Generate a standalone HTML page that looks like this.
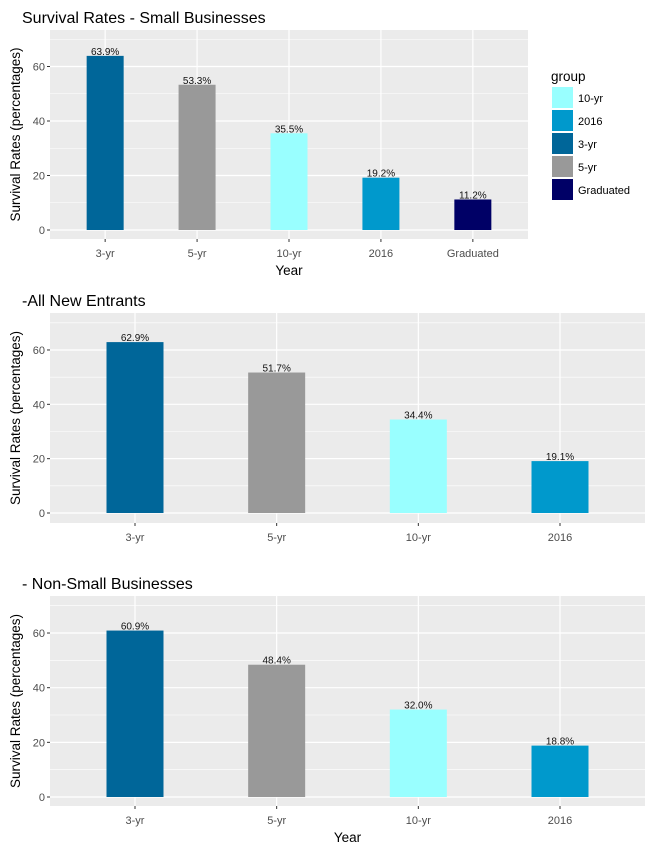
<!DOCTYPE html>
<html><head><meta charset="utf-8"><style>
body{margin:0;background:#fff;}
svg{display:block;font-family:"Liberation Sans",Arial,sans-serif;}
</style></head><body>
<svg id="c" width="650" height="850"></svg>
<script>
const cats1=["3-yr","5-yr","10-yr","2016","Graduated"];
const vals1=[63.9,53.3,35.5,19.2,11.2];
const cats2=["3-yr","5-yr","10-yr","2016"];
const vals2=[62.9,51.7,34.4,19.1];
const cats3=["3-yr","5-yr","10-yr","2016"];
const vals3=[60.9,48.4,32.0,18.8];
const yTicks=[0,20,40,60];
const legendLabels=["10-yr","2016","3-yr","5-yr","Graduated"];
const colorMap={"3-yr":"#006699","5-yr":"#999999","10-yr":"#99FFFF","2016":"#0099CC","Graduated":"#000066"};
const NS="http://www.w3.org/2000/svg";
const svg=document.getElementById('c');
function mk(tag,attrs,parent){const e=document.createElementNS(NS,tag);for(const k in attrs)e.setAttribute(k,attrs[k]);(parent||svg).appendChild(e);return e;}
function panel(cfg){
  const g=mk('g',{});
  
  
  const {x0,x1,top,bot,y0,ppu,cats,vals,title,bw,xlab}=cfg;
  const yS=v=>y0-v*ppu;
  const step=(x1-x0)/(cats.length+0.2);
  const xS=i=>x0+step*0.6+step*i;
  const bg=mk('rect',{x:x0,y:top,width:x1-x0,height:bot-top,fill:'#EBEBEB'},g);
  
  
  for(let v=10;yS(v)>top;v+=20){mk('line',{x1:x0,x2:x1,y1:yS(v),y2:yS(v),stroke:'#fff','stroke-width':0.6},g);}
  yTicks.forEach(v=>{
    mk('line',{x1:x0,x2:x1,y1:yS(v),y2:yS(v),stroke:'#fff','stroke-width':1.2},g);
    mk('line',{x1:x0-3,x2:x0,y1:yS(v),y2:yS(v),stroke:'#333','stroke-width':1},g);
    const t=mk('text',{x:x0-5,y:yS(v)+4,'text-anchor':'end','font-size':11,fill:'#4D4D4D'},g);t.textContent=v;
    
    
  });
  cats.forEach((c,i)=>{
    const cx=xS(i);
    mk('line',{x1:cx,x2:cx,y1:top,y2:bot,stroke:'#fff','stroke-width':1.2},g);
    mk('line',{x1:cx,x2:cx,y1:bot,y2:bot+3,stroke:'#333','stroke-width':1},g);
    const t=mk('text',{x:cx,y:bot+18,'text-anchor':'middle','font-size':11,fill:'#4D4D4D'},g);t.textContent=c;
    
    
  });
  cats.forEach((c,i)=>{
    const cx=xS(i),v=vals[i];
    const r=mk('rect',{x:cx-bw/2,y:yS(v),width:bw,height:yS(0)-yS(v),fill:colorMap[c]},g);
    
    
    const t=mk('text',{x:cx,y:yS(v)-1,'text-anchor':'middle','font-size':10,fill:'#111'},g);t.textContent=v.toFixed(1)+'%';
    
    
  });
  const tt=mk('text',{x:x0-28,y:top-7,'font-size':16,fill:'#000'},g);tt.textContent=title;
  
  
  const yl=mk('text',{x:0,y:0,transform:`translate(20,${(top+bot)/2}) rotate(-90)`,'text-anchor':'middle','font-size':13.5,fill:'#000'},g);yl.textContent='Survival Rates (percentages)';
  
  
  if(xlab){const xl=mk('text',{x:(x0+x1)/2,y:bot+36,'text-anchor':'middle','font-size':13.5,fill:'#000'},g);xl.textContent='Year';
    
    }
}
panel({name:'small-business-panel',x0:50,x1:528,top:30,bot:239,y0:230,ppu:2.725,cats:cats1,vals:vals1,title:'Survival Rates - Small Businesses',bw:37,xlab:true});
panel({name:'all-new-entrants-panel',x0:50,x1:645,top:313,bot:523,y0:513,ppu:2.717,cats:cats2,vals:vals2,title:'-All New Entrants',bw:57,xlab:false});
panel({name:'non-small-business-panel',x0:50,x1:645,top:596,bot:806,y0:797,ppu:2.733,cats:cats3,vals:vals3,title:'- Non-Small Businesses',bw:57,xlab:true});
// legend
const lg=mk('g',{});


const lt=mk('text',{x:551,y:81,'font-size':13.5,fill:'#000'},lg);lt.textContent='group';


legendLabels.forEach((l,i)=>{
  const y=87+i*23;
  const k=mk('rect',{x:552,y:y,width:21,height:21,fill:colorMap[l]},lg);
  
  
  const t=mk('text',{x:578,y:y+15,'font-size':11,fill:'#000'},lg);t.textContent=l;
  
  
});
</script>
</body></html>
